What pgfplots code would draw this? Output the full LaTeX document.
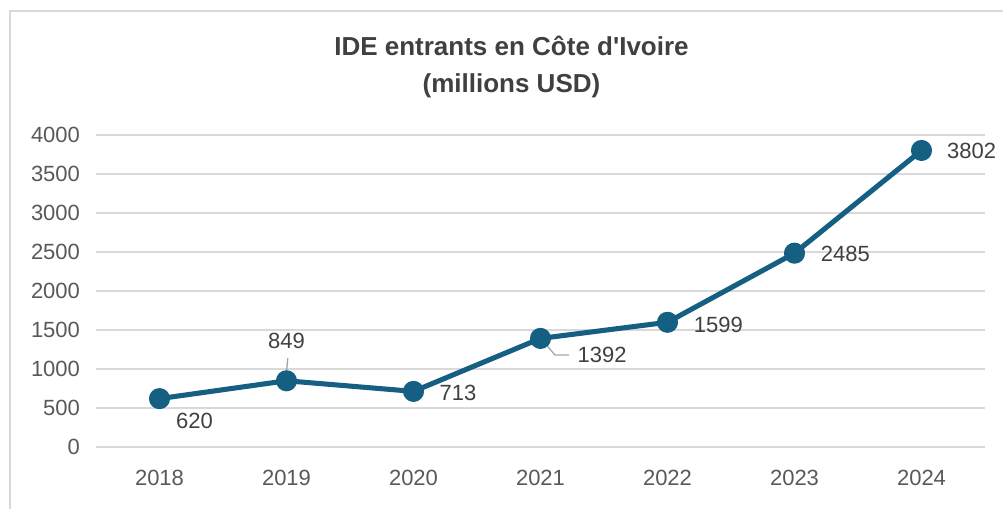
\documentclass[border=0pt]{standalone}
\usepackage{fontspec}
\setmainfont{Liberation Sans}
\usepackage{pgfplots}
\pgfplotsset{compat=1.18}
\definecolor{lineblue}{HTML}{156082}
\definecolor{gridgray}{HTML}{D9D9D9}
\definecolor{ticktext}{HTML}{595959}
\definecolor{labeltext}{HTML}{404040}
\definecolor{leader}{HTML}{A6A6A6}
\begin{document}
\begin{tikzpicture}
\path[use as bounding box] (0,0) rectangle (752.25pt,-381.75pt);
\draw[gridgray,line width=1.5pt] (7.2pt,-400pt) -- (7.2pt,-8.25pt) -- (800pt,-8.25pt);
\node[text=labeltext,font=\fontsize{19.5}{27.5}\selectfont\bfseries,align=center] at (383.6pt,-50pt) {IDE entrants en Côte d\textquotesingle Ivoire\\(millions USD)};
\begin{axis}[
  at={(72pt,-335.25pt)}, anchor=south west,
  scale only axis, width=666.75pt, height=234pt,
  xmin=-0.5, xmax=6.5, ymin=0, ymax=4000,
  xtick={0,1,2,3,4,5,6},
  xticklabels={2018,2019,2020,2021,2022,2023,2024},
  ytick={0,500,1000,1500,2000,2500,3000,3500,4000},
  axis line style={draw=none},
  major tick length=0pt,
  ymajorgrids, grid style={gridgray,line width=1.1pt},
  tick label style={text=ticktext,font=\fontsize{16.5}{19}\selectfont},
  /pgf/number format/assume math mode=true,
  /pgf/number format/1000 sep={},
  yticklabel style={xshift=-8.5pt},
  xticklabel style={yshift=-14pt},
  clip=false,
]
\addplot[lineblue, line width=3.8pt, line join=round, mark=*, mark size=6pt, mark options={fill=lineblue,draw=none}]
coordinates {(0,620) (1,849) (2,713) (3,1392) (4,1599) (5,2485) (6,3802)};
\draw[leader,line width=1pt] (axis cs:1,960) -- (axis cs:1.01,1140);
\draw[leader,line width=1pt] (axis cs:3.02,1360) -- (axis cs:3.114,1179) -- (axis cs:3.225,1179);
\begin{scope}[every node/.style={text=labeltext,font=\fontsize{16.5}{19}\selectfont}]
\node at (axis cs:0.276,333) {620};
\node at (axis cs:1.0,1359) {849};
\node at (axis cs:2.35,692) {713};
\node at (axis cs:3.485,1179) {1392};
\node at (axis cs:4.40,1564) {1599};
\node at (axis cs:5.40,2474) {2485};
\node at (axis cs:6.395,3795) {3802};
\end{scope}
\end{axis}
\end{tikzpicture}
\end{document}
